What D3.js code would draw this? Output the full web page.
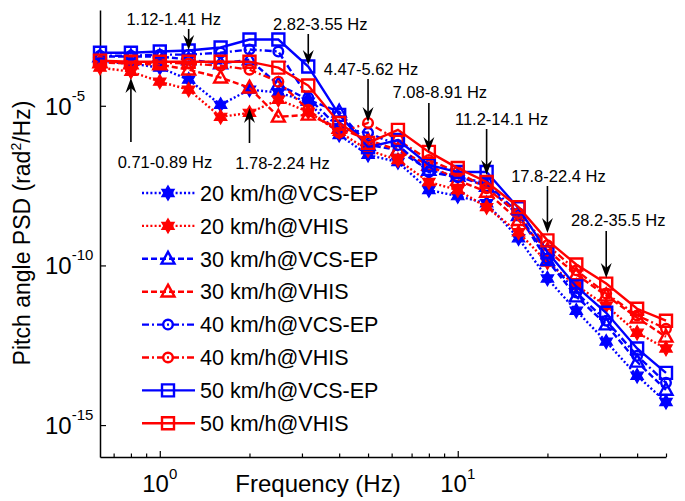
<!DOCTYPE html>
<html>
<head>
<meta charset="utf-8">
<script src="https://cdn.jsdelivr.net/npm/d3@7"></script>
<style>
    body { margin: 0; background: #fff; }
    text { font-family: "Liberation Sans", Arial, sans-serif; fill: #000; }
</style>
</head>
<body>
<div id="chart"></div>
<script>
// 1/3 octave band centre frequencies (Hz)
const frequencies = [0.63, 0.8, 1, 1.25, 1.6, 2, 2.5, 3.15, 4, 5, 6.3, 8, 10, 12.5, 16, 20, 25, 31.5, 40, 50];

const seriesNames = [
    "20 km/h@VCS-EP", "20 km/h@VHIS",
    "30 km/h@VCS-EP", "30 km/h@VHIS",
    "40 km/h@VCS-EP", "40 km/h@VHIS",
    "50 km/h@VCS-EP", "50 km/h@VHIS"
];

// pitch angle PSD (rad^2/Hz)
const psd20Vcs = [2.4e-4, 2.1e-4, 1.57e-4, 6.6e-5, 1.07e-5, 3.2e-5, 2.6e-5, 1.34e-5, 1.22e-6, 2.9e-7, 1.73e-7, 2.3e-8, 1.48e-8, 8.9e-9, 7.1e-10, 3.9e-11, 3.8e-12, 4.1e-13, 3.5e-14, 5.3e-15];
const psd20Vhis = [1.57e-4, 1.17e-4, 5.7e-5, 3.2e-5, 4.5e-6, 6.0e-6, 1.55e-5, 6.5e-6, 1.52e-6, 4.1e-7, 2.0e-7, 4.1e-8, 2.3e-8, 6.7e-9, 1.09e-9, 1.24e-10, 2.35e-11, 5.5e-12, 7.8e-13, 2.5e-13];
const psd30Vcs = [3.5e-4, 3.5e-4, 3.5e-4, 2.8e-4, 2.1e-4, 2.8e-4, 4.6e-5, 1.55e-5, 6.5e-6, 5.9e-7, 4.1e-7, 9.7e-8, 6.3e-8, 3.05e-8, 3.7e-9, 1.44e-10, 1.06e-11, 1.4e-12, 9.6e-14, 1.26e-14];
const psd30Vhis = [2.25e-4, 2.1e-4, 1.95e-4, 1.35e-4, 7.6e-5, 3.7e-5, 4.5e-6, 5.2e-6, 2.0e-6, 8.5e-7, 4.1e-7, 1.4e-7, 4.7e-8, 2.0e-8, 2.6e-9, 3.0e-10, 5.2e-11, 1.14e-11, 2.3e-12, 5.8e-13];
const psd40Vcs = [3.7e-4, 3.7e-4, 4.0e-4, 4.0e-4, 4.6e-4, 5.8e-4, 5.0e-4, 1.8e-5, 2.0e-6, 1.42e-6, 5.9e-7, 8.4e-8, 5.8e-8, 3.8e-8, 4.3e-9, 1.66e-10, 1.42e-11, 1.86e-12, 1.48e-13, 2.1e-14];
const psd40Vhis = [2.4e-4, 2.25e-4, 2.25e-4, 2.1e-4, 1.8e-4, 1.35e-4, 5.7e-5, 7.5e-6, 1.42e-6, 2.9e-6, 8.5e-7, 2.0e-7, 8.4e-8, 2.6e-8, 4.3e-9, 4.3e-10, 7.0e-11, 1.32e-11, 2.7e-12, 1.04e-12];
const psd50Vcs = [4.6e-4, 4.6e-4, 5.0e-4, 5.4e-4, 6.7e-4, 1.19e-3, 1.19e-3, 1.7e-4, 5.2e-6, 5.1e-7, 8.5e-7, 1.4e-7, 8.4e-8, 8.4e-8, 6.2e-9, 2.6e-10, 2.2e-11, 3.3e-12, 2.5e-13, 4.3e-14];
const psd50Vhis = [2.6e-4, 2.4e-4, 2.4e-4, 2.4e-4, 2.4e-4, 2.4e-4, 1.57e-4, 4.3e-5, 2.9e-6, 6.9e-7, 1.76e-6, 3.6e-7, 1.12e-7, 4.1e-8, 6.7e-9, 6.1e-10, 1.07e-10, 2.7e-11, 4.4e-12, 1.86e-12];

const seriesValues = [psd20Vcs, psd20Vhis, psd30Vcs, psd30Vhis, psd40Vcs, psd40Vhis, psd50Vcs, psd50Vhis];

// tick labels
const xMajorTicks = [1, 10];
const xMajorExponents = ["0", "1"];
const xMinorTicks = [0.7, 0.8, 0.9, 2, 3, 4, 5, 6, 7, 8, 9, 20, 30, 40, 50];
const yMajorTicks = [1e-15, 1e-10, 1e-5];
const yMajorExponents = ["-15", "-10", "-5"];

// annotated frequency bands
const bandLabels = ["0.71-0.89 Hz", "1.12-1.41 Hz", "1.78-2.24 Hz", "2.82-3.55 Hz", "4.47-5.62 Hz", "7.08-8.91 Hz", "11.2-14.1 Hz", "17.8-22.4 Hz", "28.2-35.5 Hz"];
const bandCentres = [0.8, 1.25, 2, 3.15, 5, 8, 12.5, 20, 31.5];

// ---- styling / layout ----
const blue = "#0000ff";
const red = "#ff0000";

const seriesStyles = [
    { color: blue, dash: "2,2.2", marker: "hexagram" },
    { color: red, dash: "2,2.2", marker: "hexagram" },
    { color: blue, dash: "6,3", marker: "triangle" },
    { color: red, dash: "6,3", marker: "triangle" },
    { color: blue, dash: "7,3,2,3", marker: "circle" },
    { color: red, dash: "7,3,2,3", marker: "circle" },
    { color: blue, dash: null, marker: "square" },
    { color: red, dash: null, marker: "square" }
];

// text offset from arrow, text baseline, arrow start and arrow tip (pixels)
const bandLayout = [
    { dx: 34, textY: 168, from: 142, to: 78 },
    { dx: -15, textY: 25, from: 29, to: 50 },
    { dx: 33, textY: 169, from: 143, to: 108 },
    { dx: 12, textY: 30, from: 34, to: 65 },
    { dx: 3, textY: 75, from: 79, to: 122 },
    { dx: 11, textY: 98, from: 103, to: 152 },
    { dx: 15, textY: 125, from: 129, to: 175 },
    { dx: 11, textY: 182, from: 186, to: 233 },
    { dx: 12, textY: 226, from: 231, to: 278 }
];

const width = 685;
const height = 501;
const margin = { top: 10, right: 19, bottom: 44, left: 100 };
const lineWidth = 2.4;

const svg = d3.select("#chart")
    .append("svg")
    .attr("width", width)
    .attr("height", height);

const x = d3.scaleLog()
    .domain([0.63, 50])
    .range([margin.left, width - margin.right]);

const y = d3.scaleLog()
    .domain([1e-16, 1e-2])
    .range([height - margin.bottom, margin.top]);

// marker shapes
function markerPath(type) {
    if (type === "hexagram") {
        const outer = 7.2, inner = outer / Math.sqrt(3);
        const pts = d3.range(12).map(k => {
            const r = k % 2 === 0 ? outer : inner;
            const a = -Math.PI / 2 + k * Math.PI / 6;
            return [r * Math.cos(a), r * Math.sin(a)];
        });
        return "M" + pts.map(p => p.join(",")).join("L") + "Z";
    }
    if (type === "triangle") return "M0,-7L6.5,4.8L-6.5,4.8Z";
    if (type === "square") return "M-6,-6H6V6H-6Z";
    if (type === "circle") return "M4.8,0A4.8,4.8 0 1,1 -4.8,0A4.8,4.8 0 1,1 4.8,0Z";
    return "";
}

function drawMarker(sel, style) {
    sel.attr("d", markerPath(style.marker))
        .attr("fill", style.marker === "hexagram" ? style.color : "none")
        .attr("stroke", style.color)
        .attr("stroke-width", style.marker === "hexagram" ? 1.2 : lineWidth);
}

// axes (ticks point inward)
svg.append("g")
    .attr("transform", `translate(0, ${height - margin.bottom})`)
    .call(d3.axisBottom(x).tickValues(xMinorTicks).tickSize(-3.5).tickSizeOuter(0).tickFormat(""))
    .call(g => g.select(".domain").attr("stroke-width", 1.5));

svg.append("g")
    .attr("transform", `translate(0, ${height - margin.bottom})`)
    .call(d3.axisBottom(x).tickValues(xMajorTicks).tickSize(-6).tickSizeOuter(0).tickFormat(""))
    .call(g => g.select(".domain").remove());

svg.append("g")
    .attr("transform", `translate(${margin.left}, 0)`)
    .call(d3.axisLeft(y).tickValues(yMajorTicks).tickSize(-6).tickSizeOuter(0).tickFormat(""))
    .call(g => g.select(".domain").attr("stroke-width", 1.5));

svg.selectAll("g.tick line").attr("stroke-width", 1.2);

// tick labels with superscripts
const xLabels = svg.selectAll("text.xlab")
    .data(xMajorTicks)
    .join("text")
    .attr("class", "xlab")
    .attr("x", d => x(d))
    .attr("y", 492)
    .attr("text-anchor", "middle")
    .style("font-size", "24px");
xLabels.append("tspan").text("10");
xLabels.append("tspan")
    .attr("dy", -13)
    .style("font-size", "15px")
    .text((d, i) => xMajorExponents[i]);

const yLabels = svg.selectAll("text.ylab")
    .data(yMajorTicks)
    .join("text")
    .attr("class", "ylab")
    .attr("x", 45)
    .attr("y", d => y(d) + 9)
    .style("font-size", "24px");
yLabels.append("tspan").text("10");
yLabels.append("tspan")
    .attr("dy", -14)
    .style("font-size", "15px")
    .text((d, i) => yMajorExponents[i]);

// axis titles
svg.append("text")
    .attr("x", 318)
    .attr("y", 492)
    .attr("text-anchor", "middle")
    .style("font-size", "24px")
    .text("Frequency (Hz)");

const yTitle = svg.append("text")
    .attr("transform", "translate(30, 233) rotate(-90)")
    .attr("text-anchor", "middle")
    .style("font-size", "23px");
yTitle.append("tspan").text("Pitch angle PSD (rad");
yTitle.append("tspan").attr("dy", -9).style("font-size", "14px").text("2");
yTitle.append("tspan").attr("dy", 9).text("/Hz)");

// series
const line = d3.line()
    .x((d, i) => x(frequencies[i]))
    .y(d => y(d));

seriesValues.forEach((values, s) => {
    const style = seriesStyles[s];
    const g = svg.append("g");

    g.append("path")
        .datum(values)
        .attr("d", line)
        .attr("fill", "none")
        .attr("stroke", style.color)
        .attr("stroke-width", lineWidth)
        .attr("stroke-dasharray", style.dash);

    g.selectAll("path.marker")
        .data(values)
        .join("path")
        .attr("class", "marker")
        .attr("transform", (d, i) => `translate(${x(frequencies[i])}, ${y(d)})`)
        .call(sel => drawMarker(sel, style));
});

// band annotations
bandCentres.forEach((f, i) => {
    const lay = bandLayout[i];
    const ax = x(f);
    const dir = lay.to > lay.from ? 1 : -1;
    const headLen = 15, headHalf = 5.5, notch = 10;

    svg.append("line")
        .attr("x1", ax)
        .attr("x2", ax)
        .attr("y1", lay.from)
        .attr("y2", lay.to - dir * notch)
        .attr("stroke", "#000")
        .attr("stroke-width", 1.6);

    svg.append("path")
        .attr("d", `M${ax},${lay.to}L${ax - headHalf},${lay.to - dir * headLen}L${ax},${lay.to - dir * notch}L${ax + headHalf},${lay.to - dir * headLen}Z`)
        .attr("fill", "#000");

    svg.append("text")
        .attr("x", ax + lay.dx)
        .attr("y", lay.textY)
        .attr("text-anchor", "middle")
        .style("font-size", "16.5px")
        .text(bandLabels[i]);
});

// legend
const legendTop = 193;
const legendStep = 32.9;

const legend = svg.append("g");
seriesNames.forEach((name, i) => {
    const style = seriesStyles[i];
    const ly = legendTop + i * legendStep;

    legend.append("line")
        .attr("x1", 142)
        .attr("x2", 195)
        .attr("y1", ly)
        .attr("y2", ly)
        .attr("stroke", style.color)
        .attr("stroke-width", lineWidth)
        .attr("stroke-dasharray", style.dash);

    legend.append("path")
        .attr("transform", `translate(168, ${ly})`)
        .call(sel => drawMarker(sel, style));

    legend.append("text")
        .attr("x", 200)
        .attr("y", ly)
        .attr("dy", "0.36em")
        .style("font-size", "21.5px")
        .text(name);
});
</script>
</body>
</html>
